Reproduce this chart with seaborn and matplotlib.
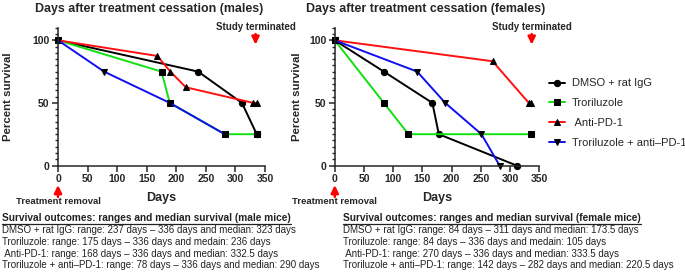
import pandas as pd
import numpy as np
import matplotlib
matplotlib.use('Agg')
import matplotlib.pyplot as plt
import seaborn as sns
from matplotlib.lines import Line2D

# 数据
groups = ['DMSO + rat IgG', 'Troriluzole', 'Anti-PD-1', 'Troriluzole + anti–PD-1']
legend_labels = ['DMSO + rat IgG', 'Troriluzole', ' Anti-PD-1', 'Troriluzole + anti–PD-1']

male_dmso_days = [0, 237, 311, 336]
male_dmso_surv = [100, 75, 50, 25]
male_tro_days = [0, 175, 189, 282, 336]
male_tro_surv = [100, 75, 50, 25, 25]
male_pd1_days = [0, 168, 190, 216, 330, 336]
male_pd1_surv = [100, 87.5, 75, 62.5, 50, 50]
male_combo_days = [0, 78, 189, 282]
male_combo_surv = [100, 75, 50, 25]

female_dmso_days = [0, 84, 167, 178, 311]
female_dmso_surv = [100, 75, 50, 25, 0]
female_tro_days = [0, 84, 126, 336]
female_tro_surv = [100, 50, 25, 25]
female_pd1_days = [0, 270, 332, 336]
female_pd1_surv = [100, 83.3, 50, 50]
female_combo_days = [0, 141, 189, 251, 282]
female_combo_surv = [100, 75, 50, 25, 0]

x_ticks = [0, 50, 100, 150, 200, 250, 300, 350]
y_ticks = [0, 50, 100]

male_notes = ['DMSO + rat IgG: range: 237 days – 336 days and median: 323 days',
              'Troriluzole: range: 175 days – 336 days and medain: 236 days',
              ' Anti-PD-1: range: 168 days – 336 days and median: 332.5 days',
              'Troriluzole + anti–PD-1: range: 78 days – 336 days and median: 290 days']
female_notes = ['DMSO + rat IgG: range: 84 days – 311 days and median: 173.5 days',
                'Troriluzole: range: 84 days – 336 days and medain: 105 days',
                ' Anti-PD-1: range: 270 days – 336 days and median: 333.5 days',
                'Troriluzole + anti–PD-1: range: 142 days – 282 days and median: 220.5 days']

palette = {groups[0]: 'black', groups[1]: '#11e011', groups[2]: '#ff1010', groups[3]: '#1010ee'}
markers = {groups[0]: 'o', groups[1]: 's', groups[2]: '^', groups[3]: 'v'}


def make_df(series):
    rows = []
    for g, (days, surv) in zip(groups, series):
        for d, s in zip(days, surv):
            rows.append({'group': g, 'day': d, 'survival': s})
    return pd.DataFrame(rows)


male_df = make_df([(male_dmso_days, male_dmso_surv), (male_tro_days, male_tro_surv),
                   (male_pd1_days, male_pd1_surv), (male_combo_days, male_combo_surv)])
female_df = make_df([(female_dmso_days, female_dmso_surv), (female_tro_days, female_tro_surv),
                     (female_pd1_days, female_pd1_surv), (female_combo_days, female_combo_surv)])

sns.set_style('ticks')
plt.rcParams['font.family'] = ['Liberation Sans', 'DejaVu Sans']

W, H = 685, 272
fig = plt.figure(figsize=(W / 100, H / 100), dpi=100)


def px_axes(left, right, top, bottom):
    return fig.add_axes([left / W, 1 - bottom / H, (right - left) / W, (bottom - top) / H])


ax_m = px_axes(58, 265, 27.8, 165.5)
ax_f = px_axes(334.8, 539.3, 27.8, 165.5)

red_arrow = dict(arrowstyle='-|>,head_length=0.45,head_width=0.22',
                 color='red', lw=1.8, shrinkA=0, shrinkB=0)


def draw_panel(ax, df, title, term_x, ylab_x, show_legend):
    sns.lineplot(data=df, x='day', y='survival', hue='group', style='group',
                 palette=palette, markers=markers, dashes=False, sort=False,
                 estimator=None, ax=ax, linewidth=1.4, markersize=4.5,
                 legend=show_legend)
    for ln in ax.lines:
        ln.set_clip_on(False)
        ln.set_markerfacecolor('black')
        ln.set_markeredgecolor('black')
    ax.set_xlim(0, 350)
    ax.set_ylim(0, 110)
    ax.set_xticks(x_ticks)
    ax.set_yticks(y_ticks)
    ax.set_yticks(np.arange(0, 111, 5), minor=True)
    ax.tick_params(axis='both', which='major', length=4, width=1.1, labelsize=7.5, pad=2)
    ax.tick_params(axis='y', which='minor', length=2.5, width=1.0)
    for lab in ax.get_xticklabels() + ax.get_yticklabels():
        lab.set_fontweight('bold')
    for sp in ['left', 'bottom']:
        ax.spines[sp].set_linewidth(1.1)
    sns.despine(ax=ax)
    ax.set_xlabel('Days', fontsize=9, fontweight='bold', labelpad=6)
    ax.set_ylabel('Percent survival', fontsize=8.2, fontweight='bold')
    ax.yaxis.set_label_coords(ylab_x, 0.5)
    ax.text(0.442, 1.14, title, transform=ax.transAxes, ha='center', va='center',
            fontsize=8.9, fontweight='bold')
    # 研究终止箭头
    ax.text(term_x, 110.3, 'Study terminated', ha='center', va='center',
            fontsize=7, fontweight='bold', clip_on=False)
    ax.annotate('', xy=(term_x, 96.5), xytext=(term_x, 105),
                arrowprops=red_arrow, annotation_clip=False)
    # 治疗移除箭头
    ax.annotate('', xy=(0, -0.142), xytext=(0, -0.228), xycoords=('data', 'axes fraction'),
                textcoords=('data', 'axes fraction'),
                arrowprops=red_arrow, annotation_clip=False)
    ax.text(0, -0.265, 'Treatment removal', transform=ax.get_xaxis_transform(),
            ha='center', va='center', fontsize=6.8, fontweight='bold')


draw_panel(ax_m, male_df, 'Days after treatment cessation (males)', 334, -0.217, False)
draw_panel(ax_f, female_df, 'Days after treatment cessation (females)', 337, -0.160, True)

handles, _ = ax_f.get_legend_handles_labels()
for h in handles:
    h.set_markerfacecolor('black')
    h.set_markeredgecolor('black')
    h.set_linewidth(1.4)
ax_f.legend(handles, legend_labels, loc='upper left', bbox_to_anchor=(545 / W, 1 - 74 / H),
            bbox_transform=fig.transFigure, frameon=False, fontsize=8,
            handlelength=1.4, handletextpad=0.6, labelspacing=0.88, borderaxespad=0)

# 下方的生存结果说明
fig.canvas.draw()
renderer = fig.canvas.get_renderer()


def notes(x0, heading, lines):
    t = fig.text(x0 / W, 1 - 218 / H, heading, ha='left', va='center',
                 fontsize=7.3, fontweight='bold', color='#222222')
    bb = t.get_window_extent(renderer=renderer)
    y_line = (bb.y0 - 0.5) / H
    fig.add_artist(Line2D([bb.x0 / W, bb.x1 / W], [y_line, y_line],
                          color='#222222', lw=0.9, transform=fig.transFigure))
    for i, s in enumerate(lines):
        fig.text(x0 / W, 1 - (230 + 11.8 * i) / H, s, ha='left', va='center',
                 fontsize=7, color='#222222')


notes(2, 'Survival outcomes: ranges and median survival (male mice)', male_notes)
notes(343, 'Survival outcomes: ranges and median survival (female mice)', female_notes)

fig.savefig('out.png', dpi=100)
